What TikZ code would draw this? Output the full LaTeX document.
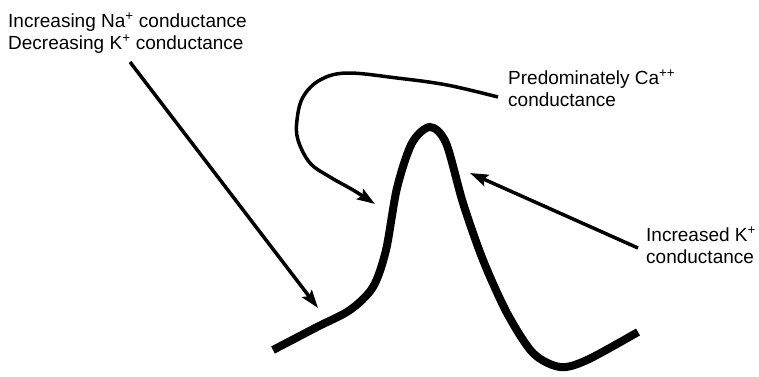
\documentclass[tikz,border=0pt]{standalone}
\usepackage{fontspec}
\setmainfont{Liberation Sans}
\usetikzlibrary{arrows.meta}

\begin{document}
\begin{tikzpicture}[x=1pt, y=-1pt,
  font=\fontsize{19}{22}\selectfont, >={Stealth[length=18pt, width=12pt, inset=3pt]},
  lab/.style={align=left, inner sep=0pt, anchor=base west},
  ptr/.style={->, line width=3.5pt},
  spike/.style={line width=8pt}]
  \useasboundingbox (0,0) rectangle (759,376);
  % labels (base = last line)
  \node[lab] (nak) at (8,49) {Increasing Na\textsuperscript{+} conductance\\Decreasing K\textsuperscript{+} conductance};
  \node[lab] (ca) at (508,106) {Predominately Ca\textsuperscript{++}\\conductance};
  \node[lab] (kup) at (646,263) {Increased K\textsuperscript{+}\\conductance};
  % arrow ends
  \coordinate (natail) at (130,62);
  \coordinate (nahead) at (318,308);
  \coordinate (catail) at (498,97);
  \coordinate (cahead) at (375,204);
  \coordinate (ktail) at (638,248);
  \coordinate (khead) at (470,173);
  % action potential
  \draw[spike] plot[smooth, tension=0.5] coordinates {(273,350) (317,327) (350,310) (373,287) (386,250)
    (397,188) (412,143) (430,127) (446,143) (463,203) (483,260) (507,313) (533,353)
    (560,367) (587,360) (638,332)};
  % pointers
  \draw[ptr] (natail) -- (nahead);
  \draw[ptr] plot[smooth, tension=0.6] coordinates {(catail) (447,85) (397,78) (347,73) (320,80) (303,97)
    (297,120) (298,140) (310,163) (330,177) (353,190) (cahead)};
  \draw[ptr] (ktail) -- (khead);
\end{tikzpicture}
\end{document}
